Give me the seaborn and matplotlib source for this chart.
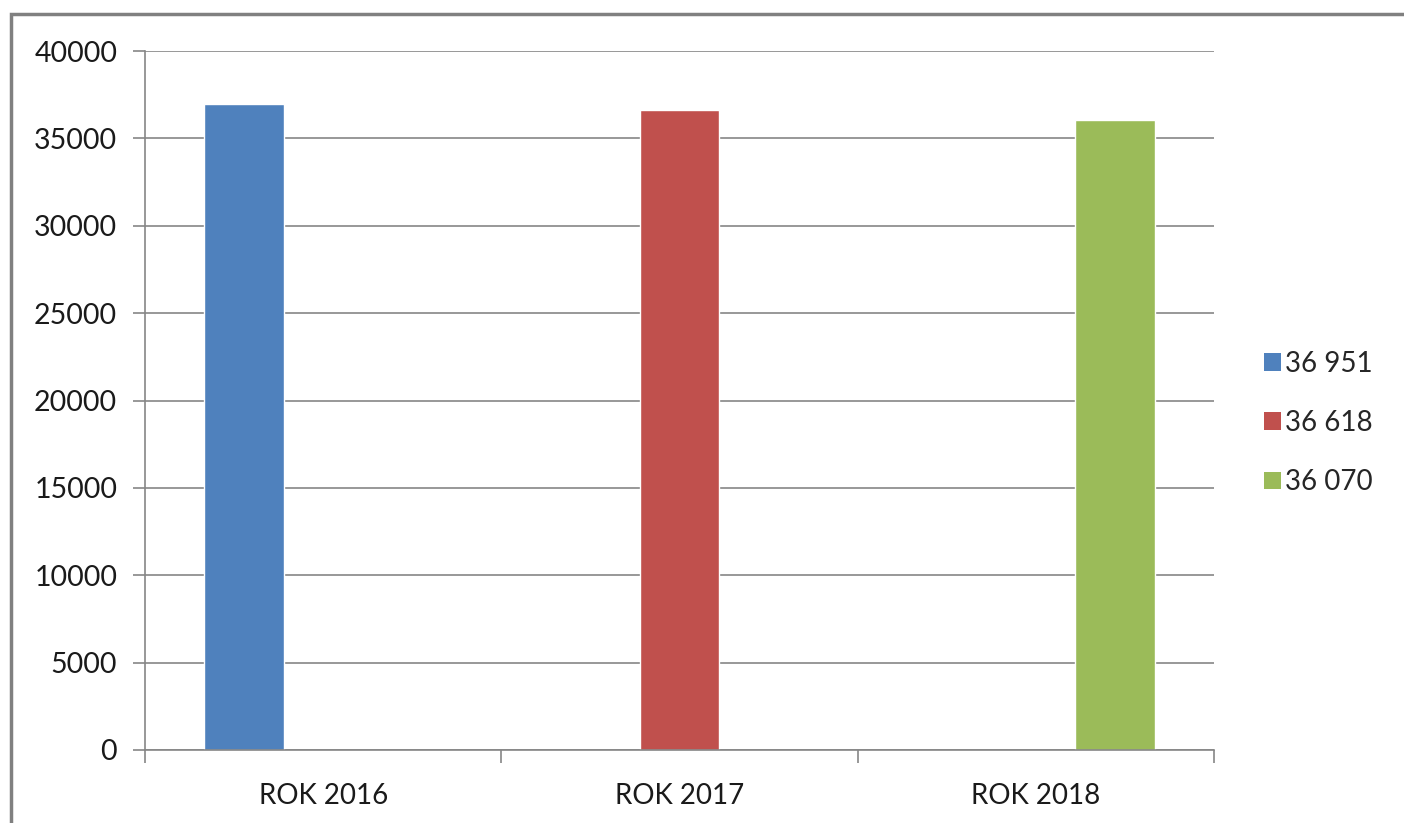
import matplotlib
matplotlib.use("Agg")
import matplotlib.pyplot as plt
import seaborn as sns
import pandas as pd
from matplotlib.patches import Rectangle, Patch

categories = ["ROK 2016", "ROK 2017", "ROK 2018"]
series_labels = ["36 951", "36 618", "36 070"]
values = [36951, 36618, 36070]
colors = ["#4F81BD", "#C0504D", "#9BBB59"]
yticks = [0, 5000, 10000, 15000, 20000, 25000, 30000, 35000, 40000]

df = pd.DataFrame({"kategoria": categories, "seria": series_labels, "wartosc": values})

sns.set_theme(style="white")
plt.rcParams["font.family"] = ["Lato", "DejaVu Sans"]

fig = plt.figure(figsize=(14.04, 8.23), dpi=100)
ax = fig.add_axes([145/1404, 1-750/823, (1214-145)/1404, (750-51)/823])

sns.barplot(data=df, x="kategoria", y="wartosc", hue="seria", hue_order=series_labels,
            order=categories, palette=colors, width=0.667, dodge=True, ax=ax,
            saturation=1, legend=False, errorbar=None)

ax.set_ylim(0, 40000)
ax.set_xlim(-0.5, 2.5)
ax.set_yticks(yticks)
ax.set_yticklabels([str(v) for v in yticks], fontsize=20.5, color="#1a1a1a")
ax.yaxis.grid(True, color="#868686", linewidth=1.2)
ax.set_axisbelow(True)
ax.set_xlabel("")
ax.set_ylabel("")
for s in ["top", "right"]:
    ax.spines[s].set_visible(False)
for s in ["left", "bottom"]:
    ax.spines[s].set_color("#868686")
    ax.spines[s].set_linewidth(1.2)

ax.tick_params(axis="y", which="major", left=True, length=9, width=1.2, color="#868686", pad=11)
ax.set_xticks([0, 1, 2])
ax.set_xticklabels(categories, fontsize=20, color="#1a1a1a")
ax.tick_params(axis="x", which="major", bottom=False, pad=18)
ax.set_xticks([-0.5, 0.5, 1.5, 2.5], minor=True)
ax.tick_params(axis="x", which="minor", bottom=True, length=9, width=1.2, color="#868686")

handles = [Patch(facecolor=c, edgecolor="none") for c in colors]
fig.legend(handles, series_labels, loc="center left", bbox_to_anchor=(1264/1404, 1-423/823),
           frameon=False, fontsize=20, handlelength=0.6, handleheight=0.6,
           handletextpad=0.15, labelspacing=1.2, borderaxespad=0, borderpad=0)

fig.patches.append(Rectangle((11/1404, -0.1), 1.2, 1.1 - 14/823, transform=fig.transFigure,
                             fill=False, edgecolor="#808080", linewidth=2.5))

fig.savefig("out.png", dpi=100)
